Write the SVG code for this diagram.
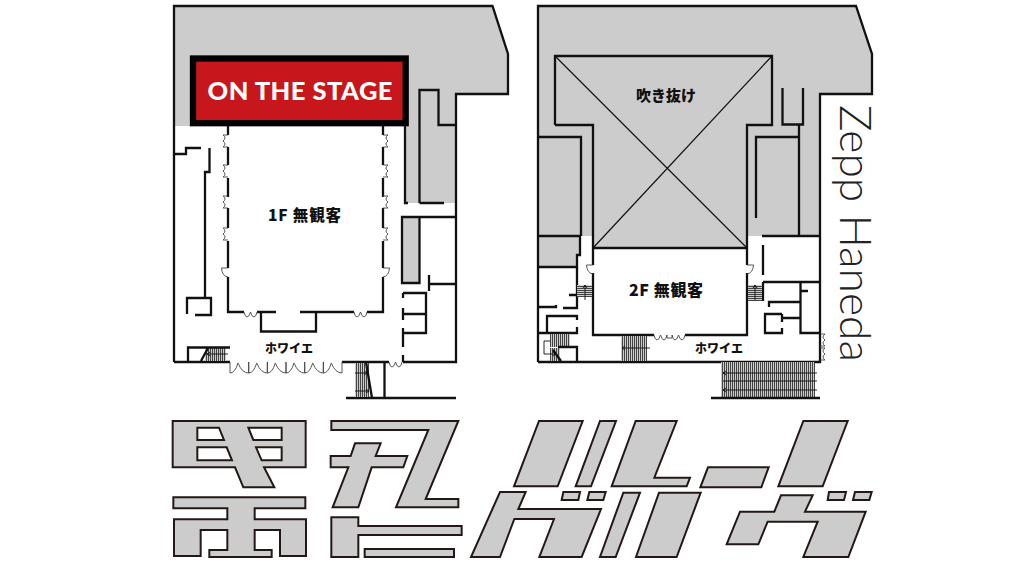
<svg xmlns="http://www.w3.org/2000/svg" width="1024" height="576" viewBox="0 0 1024 576">
<style>
.g{fill:#ccc;stroke:none}
.w{fill:none;stroke:#111;stroke-width:2.300;stroke-linecap:butt;stroke-linejoin:miter}
.t{fill:none;stroke:#111;stroke-width:.9}
.d{fill:none;stroke:#444;stroke-width:.9}
.l{fill:#ccc;stroke:#231815;stroke-width:6;stroke-linejoin:miter;fill-rule:evenodd}
.j{font-family:"Noto Sans CJK JP","Noto Sans",sans-serif;font-weight:900;fill:#111;text-anchor:middle}
</style>
<defs>
<pattern id="hv" width="2" height="2" patternUnits="userSpaceOnUse"><rect width="2" height="2" fill="#ccc"/><rect width="1" height="2" fill="#444"/></pattern>
<pattern id="hh" width="2" height="2" patternUnits="userSpaceOnUse"><rect width="2" height="2" fill="#ccc"/><rect width="2" height="1" fill="#444"/></pattern>
<path id="dp" class="d" d="M0,0V11Q5,11 8,1Q12,11 18.700,11V0"/>
<path id="ds" class="d" d="M0,0Q1,5 3,5Q5,5 6.500,0Q8,5 10,5Q12,5 13,0"/>
<path id="dw" class="d" d="M0,0H-5Q-1,3 -5,6Q-1,9 -5,12H0"/>
<path id="da" class="d" d="M0,0H-6.500Q-6,8 0,9"/>
</defs>

<g id="floor-1f">
<path class="g" d="M174,6H492L508,54V94H456V203H405V126H174Z"/>
<path class="g" d="M403,217H420V283H403Z"/>
<path class="w" d="M174,362V6H492.500L508,54V94H456V362H403M389,362H342M230,362H174"/>
<path class="w" d="M419.500,203V90H438.500V125H456M405,126V203H408M419.500,203H444"/>
<path class="w" d="M228,126V135M228,147V165M228,178V197M228,208V228M228,241V268M228,277V312H244M257,312H276M261,312V331.500H316V312M300,312H354M367,312H383V277M383,268V241M383,228V208M383,197V178M383,165V147M383,135V126"/>
<path class="w" d="M174,154H186V148H201M209.500,148V172H205V298M187,314V298H211V315H195"/>
<path class="w" d="M456,217H402V283H419.500V217M429,275V291M429,284H456M403,293H426V333H403M403,314H426M403,298V293M403,308V320M403,328V347M403,355V362"/>
<path class="w" d="M384.500,362V398M346,398H456"/>
<rect x="355" y="363" width="14" height="34" fill="url(#hv)"/>
<path class="w" d="M366,362L372,398"/>
<path class="t" d="M355,373H367L364,371M367,373L364,375M355,391H369L366,389M369,391L366,393"/>
<rect x="205" y="348" width="21" height="13" fill="url(#hv)"/>
<path class="w" d="M230,347.500H188V361M201,361L208,348"/>
<path class="t" d="M228,354H207L210,352M207,354L210,356"/>
<use href="#dp" x="230" y="362"/><use href="#dp" x="248.700" y="362"/><use href="#dp" x="267.300" y="362"/><use href="#dp" x="286" y="362"/><use href="#dp" x="304.700" y="362"/><use href="#dp" x="323.300" y="362"/>
<use href="#ds" x="244" y="312"/><use href="#ds" x="354" y="312"/><use href="#ds" x="389" y="362"/>
<use href="#dw" x="228" y="135"/><use href="#dw" x="228" y="165"/><use href="#dw" x="228" y="196"/><use href="#dw" x="228" y="228"/>
<use href="#dw" transform="translate(383,135) scale(-1,1)"/><use href="#dw" transform="translate(383,165) scale(-1,1)"/><use href="#dw" transform="translate(383,196) scale(-1,1)"/><use href="#dw" transform="translate(383,228) scale(-1,1)"/>
<use href="#da" x="228" y="268"/><use href="#da" transform="translate(383,268) scale(-1,1)"/>
<rect x="193" y="58.500" width="212.700" height="64.700" fill="#c8161d" stroke="#000" stroke-width="6.300"/>
<text x="300" y="100" font-family="Lato,'Liberation Sans',sans-serif" font-weight="900" font-size="25.500" fill="#fff" text-anchor="middle" textLength="185">ON THE STAGE</text>
<text class="j" x="304.500" y="220.500" font-size="15.500" textLength="73">1F 無観客</text>
<text class="j" x="289" y="353" font-size="12">ホワイエ</text>
</g>

<g id="floor-2f">
<path class="g" d="M538,6H856L872,54V94H820V236H747V248H593V236H581V255H577V267H538Z"/>
<path class="w" d="M538,362V6H856L872,54V94H820V362H538"/>
<path class="w" d="M555,125V56H772V125H747V265M747,273V335H685M654,335H593V273M593,265V125H555"/>
<path d="M555,56L747,248M772,56L593,248" fill="none" stroke="#111" stroke-width="1.200"/>
<path class="w" d="M593,248H747"/>
<path class="w" d="M538,137H581V236M538,236H580V255H577V267H538"/>
<path class="w" d="M756,218V137H799M799,125V236M782.500,88V124.500H803V88M762,236H820"/>
<path class="w" d="M763,245V275M763,282H820M763,282V301M800.500,282V333H820M800.500,291H808M769,307V302H800.500M782,314H765V333H782V328M782,314V322M782,318H800.500"/>
<path class="w" d="M538,307H556V305M563,308H577V267M569,295H577M577,320V316H547V333H538M547,333H577V327"/>
<rect x="550" y="334" width="20" height="13" fill="url(#hv)"/>
<rect x="550" y="348" width="10" height="13" fill="url(#hv)"/>
<path class="w" d="M558,347H577V361M553,350L561,361"/>
<path class="t" d="M550,341H544V354H556L553,352M556,354L553,356"/>
<rect x="577" y="285" width="15" height="12" fill="url(#hh)"/>
<rect x="748" y="285" width="14" height="16" fill="url(#hh)"/>
<path class="t" d="M585,300V285L583,288M585,285L587,288M755,300V285L753,288M755,285L757,288"/>
<rect x="621" y="336" width="26" height="25" fill="url(#hv)"/>
<path class="t" d="M650,348H622L625,346M622,348L625,350"/>
<rect x="721" y="362" width="94" height="35" fill="url(#hv)"/>
<path class="t" d="M817,373H723L726,371M723,373L726,375M817,381H723M817,390H723L726,388M723,390L726,392"/>
<path class="w" d="M711,398H820"/>
<use href="#ds" x="654" y="335"/><use href="#ds" x="672" y="335"/>
<path class="d" d="M667,335V338H672V335"/>
<use href="#da" x="593" y="265"/><use href="#da" transform="translate(747,265) scale(-1,1)"/>
<use href="#dw" transform="translate(820,334) scale(-1,1)"/><use href="#dw" transform="translate(820,348) scale(-1,1)"/>
<text class="j" x="666" y="101" font-size="15">吹き抜け</text>
<text class="j" x="666" y="295.500" font-size="16" textLength="74">2F 無観客</text>
<text class="j" x="719" y="353" font-size="12">ホワイエ</text>
<text transform="translate(840,105) rotate(90)" font-family="Lato,'Noto Sans',sans-serif" font-weight="300" font-size="43" fill="#222" textLength="257" lengthAdjust="spacingAndGlyphs">Zepp Haneda</text>
</g>

<g id="logo-left" transform="translate(160,410) scale(.33333)">
<path class="l" d="M38,33H437V172H312L343,232H250L225,172H38ZM112,53H177L192,90H112ZM112,112H200L216,151H112ZM265,53H365V90H280ZM288,112H365V151H305Z"/>
<path class="l" d="M40,262H436V295H284V328H438V438H360V360H284V420H335V441H148V420H202V360H122V438H42V328H202V295H40Z"/>
<path class="l" d="M514,33H895L797,267H895V292H708L805,60H514Z"/>
<path class="l" d="M585,100H662L647,138H742L730,172H635L595,292H518L565,172H512V138H572Z"/>
<path class="l" d="M514,322H595V348H905V375H595V441H514Z"/>
<path class="l" d="M614,417H882V441H614Z"/>
</g>
<g id="logo-right" transform="translate(470,410) scale(.33333)">
<path class="l" d="M207,33H338L263,229H132Z"/>
<path class="l" d="M390,33H438L363,229H317Z"/>
<path class="l" d="M497,33H620L553,203H660L650,229H425Z"/>
<path class="l" d="M714,172H896L874,232H691Z"/>
<path class="l" d="M1000,33H1133L1058,229H925Z"/>
<path class="l" d="M90,246H167L145,297H393L335,441H208L252,327H133L90,441H3Z"/>
<path class="l" d="M280,246H330L325,270H275Z"/>
<path class="l" d="M358,246H407L400,270H352Z"/>
<path class="l" d="M460,248H510L437,441H390Z"/>
<path class="l" d="M567,248H692L620,441H498Z"/>
<path class="l" d="M933,256H1028L1005,305H1187L1135,441H1000L1043,335H893L865,403H770L810,305H913Z"/>
<path class="l" d="M1077,246H1128L1122,270H1073Z"/>
<path class="l" d="M1155,246H1205L1198,270H1149Z"/>
</g>
</svg>
